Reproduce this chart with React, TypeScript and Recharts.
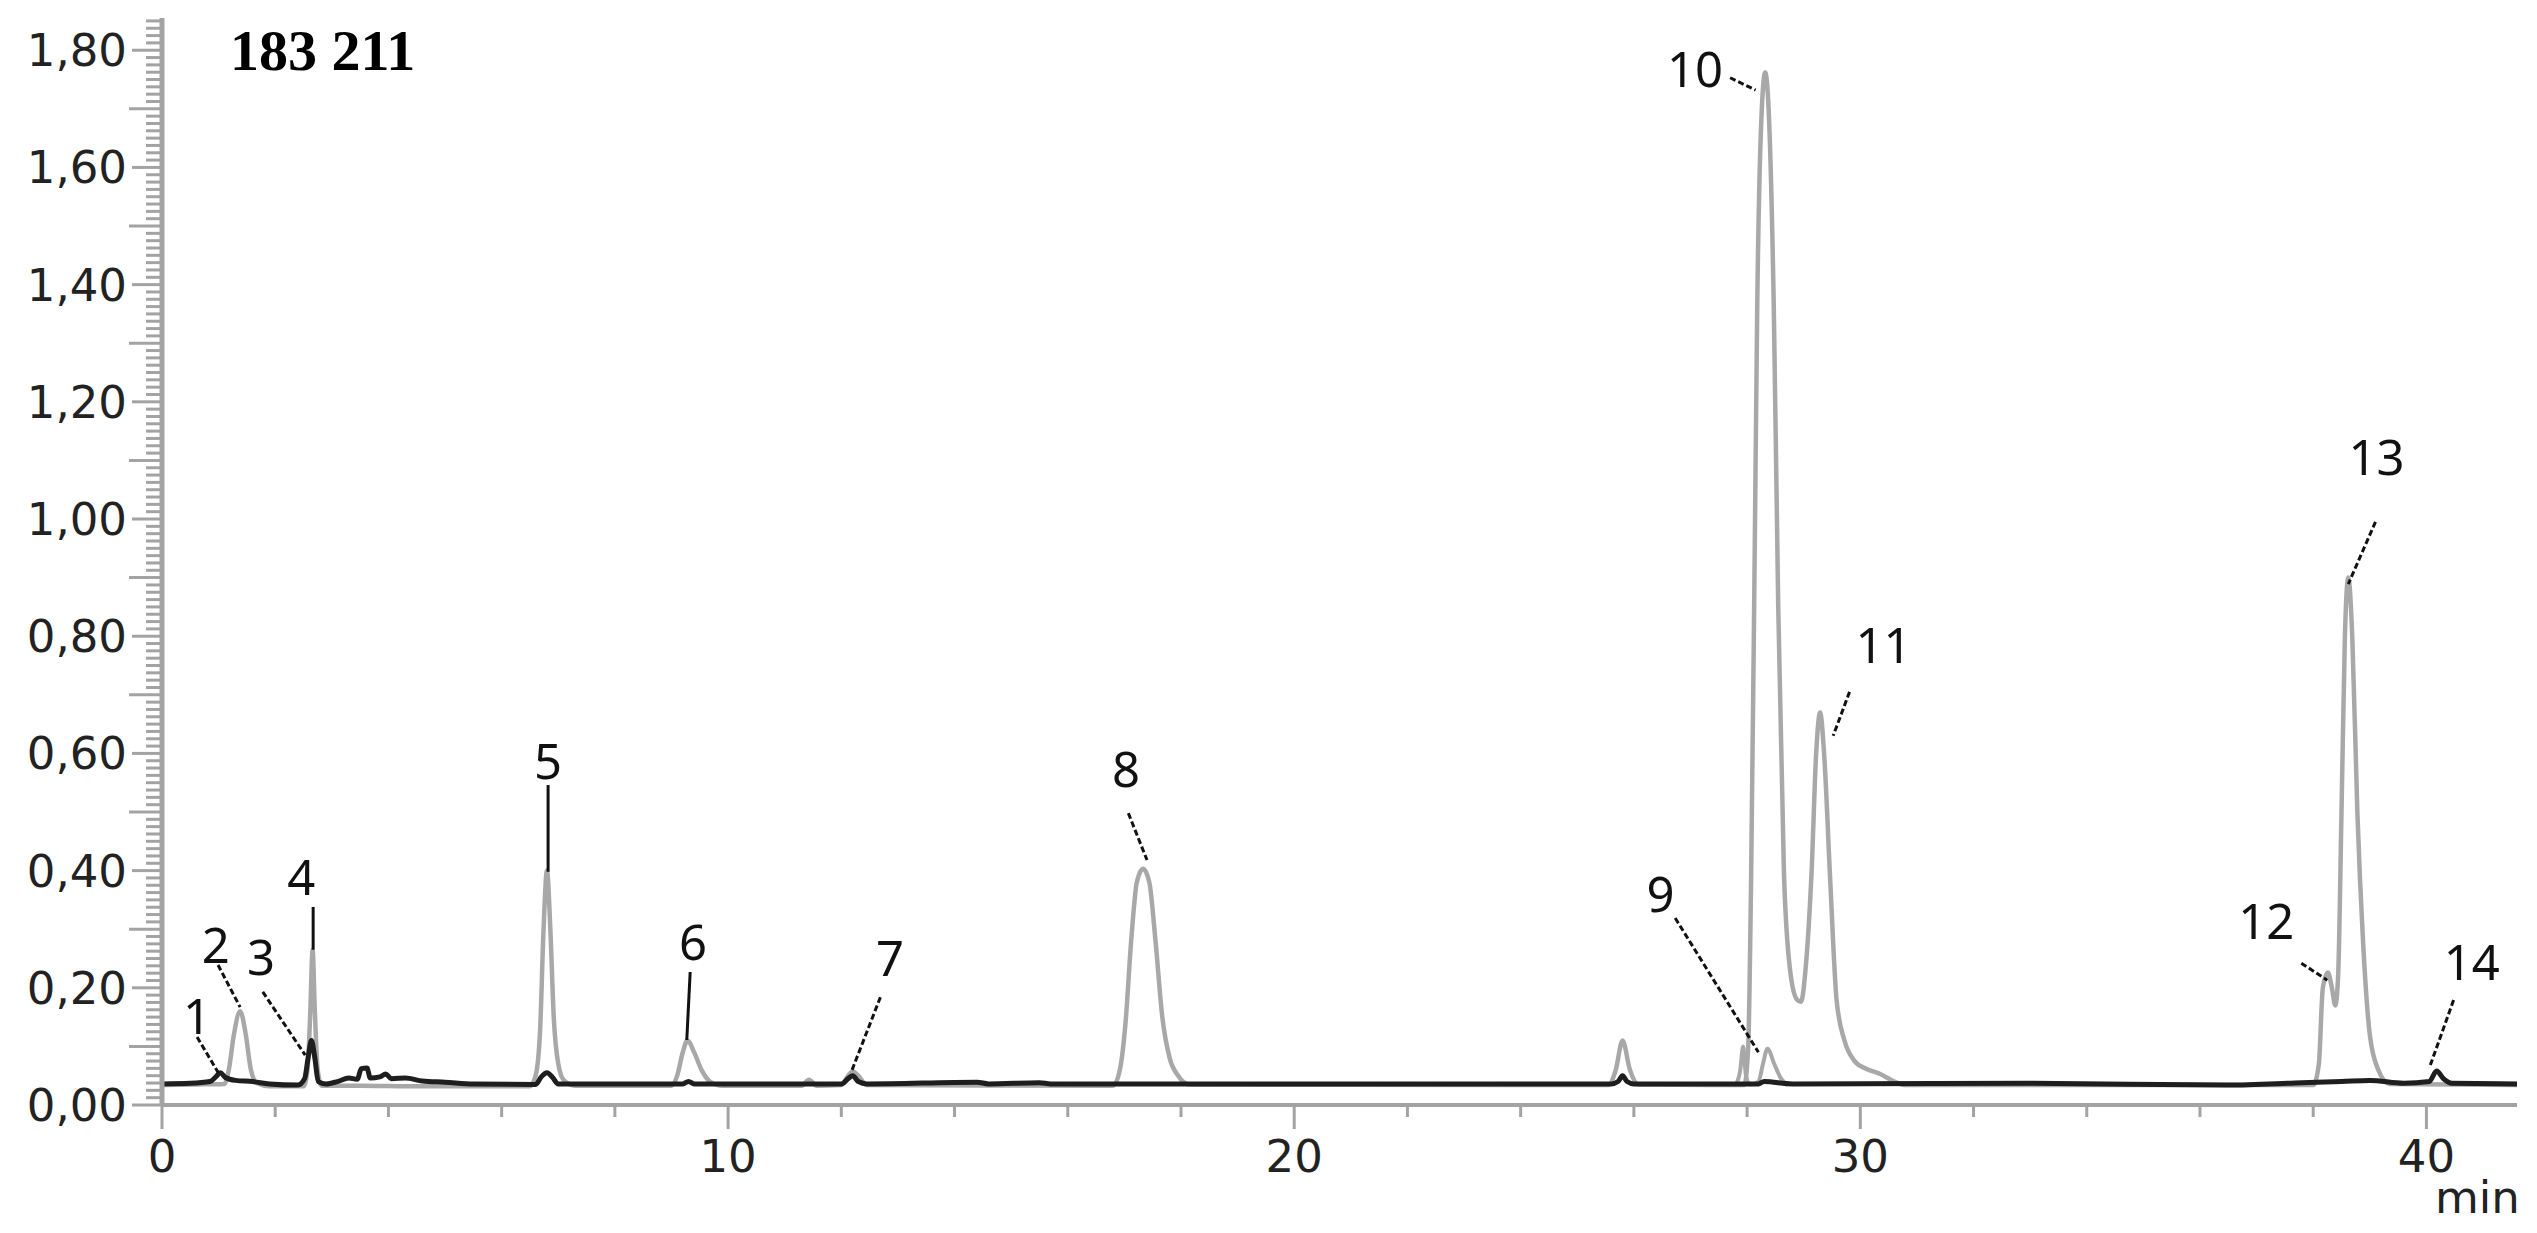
import React from 'react';
import { ComposedChart, Line, Scatter, XAxis, YAxis, ReferenceLine } from 'recharts';

// grey chromatogram, [min, AU]
const mainTrace = [
  [0, 0.034], [0.6, 0.035], [1.1, 0.036], [1.18, 0.06], [1.27, 0.12], [1.38, 0.16], [1.48, 0.12],
  [1.57, 0.06], [1.68, 0.037], [1.9, 0.032], [2.5, 0.032], [2.57, 0.06], [2.62, 0.16], [2.66, 0.265],
  [2.7, 0.16], [2.75, 0.06], [2.82, 0.033], [3.5, 0.033], [4.5, 0.032], [6.5, 0.032], [6.6, 0.05],
  [6.68, 0.13], [6.74, 0.3], [6.8, 0.4], [6.86, 0.3], [6.92, 0.15], [7.0, 0.07], [7.1, 0.042],
  [7.3, 0.033], [9.0, 0.033], [9.1, 0.05], [9.2, 0.09], [9.28, 0.11], [9.4, 0.09], [9.53, 0.06],
  [9.68, 0.04], [9.9, 0.033], [11.3, 0.033], [11.43, 0.043], [11.56, 0.033], [12.0, 0.034],
  [12.12, 0.05], [12.2, 0.057], [12.3, 0.05], [12.45, 0.034], [16.8, 0.033], [16.92, 0.06],
  [17.02, 0.14], [17.12, 0.28], [17.22, 0.38], [17.33, 0.403], [17.44, 0.38], [17.55, 0.28],
  [17.67, 0.15], [17.8, 0.08], [17.95, 0.05], [18.15, 0.035], [25.55, 0.034], [25.68, 0.06],
  [25.8, 0.11], [25.93, 0.06], [26.08, 0.035], [27.95, 0.034], [28.02, 0.1], [28.07, 0.38],
  [28.13, 0.9], [28.18, 1.37], [28.26, 1.7], [28.32, 1.762], [28.38, 1.7], [28.47, 1.37],
  [28.55, 0.85], [28.65, 0.4], [28.76, 0.23], [28.88, 0.18], [28.95, 0.176], [29.04, 0.24],
  [29.14, 0.4], [29.22, 0.6], [29.29, 0.67], [29.36, 0.6], [29.47, 0.38], [29.58, 0.18],
  [29.72, 0.11], [29.9, 0.075], [30.1, 0.062], [30.35, 0.053], [30.6, 0.04], [30.8, 0.034],
  [38.0, 0.034], [38.1, 0.07], [38.17, 0.2], [38.26, 0.226], [38.33, 0.2], [38.39, 0.17],
  [38.44, 0.22], [38.5, 0.5], [38.56, 0.8], [38.62, 0.9], [38.69, 0.8], [38.78, 0.5],
  [38.88, 0.28], [39.0, 0.12], [39.15, 0.06], [39.35, 0.036], [41.6, 0.034],
];

// second grey trace (small peaks under 10)
const secondTrace = [
  [27.8, 0.034], [27.88, 0.06], [27.93, 0.1], [27.98, 0.05], [28.05, 0.035], [28.2, 0.04],
  [28.28, 0.07], [28.36, 0.096], [28.48, 0.07], [28.6, 0.045], [28.72, 0.034],
];

// dark trace
const blackTrace = [
  [0, 0.036], [0.5, 0.037], [0.85, 0.04], [0.95, 0.048], [1.03, 0.055], [1.12, 0.047], [1.3, 0.042],
  [1.6, 0.04], [1.9, 0.036], [2.4, 0.034], [2.52, 0.045], [2.58, 0.08], [2.64, 0.11], [2.7, 0.08],
  [2.76, 0.04], [2.9, 0.036], [3.1, 0.04], [3.3, 0.046], [3.45, 0.044], [3.52, 0.062], [3.62, 0.063],
  [3.68, 0.046], [3.85, 0.048], [3.95, 0.053], [4.05, 0.045], [4.3, 0.046], [4.6, 0.041], [5.0, 0.039],
  [5.5, 0.036], [6.6, 0.035], [6.7, 0.048], [6.8, 0.055], [6.9, 0.047], [7.0, 0.036], [9.2, 0.036],
  [9.3, 0.04], [9.4, 0.036], [12.0, 0.036], [12.12, 0.045], [12.2, 0.05], [12.3, 0.04], [12.45, 0.036],
  [14.4, 0.039], [14.6, 0.036], [15.5, 0.038], [15.7, 0.036], [25.6, 0.036], [25.72, 0.04],
  [25.8, 0.05], [25.88, 0.04], [26.0, 0.036], [28.2, 0.036], [28.3, 0.04], [28.8, 0.036], [33, 0.037],
  [36.5, 0.034], [37.8, 0.038], [38.5, 0.04], [39.0, 0.042], [39.6, 0.037], [40.05, 0.04],
  [40.18, 0.058], [40.3, 0.045], [40.45, 0.037], [41.6, 0.036],
];

const xTickLabels = ['0', '10', '20', '30', '40'];
const yTickLabels = ['0,00', '0,20', '0,40', '0,60', '0,80', '1,00', '1,20', '1,40', '1,60', '1,80'];

const peakNames = ['1', '2', '3', '4', '5', '6', '7', '8', '9', '10', '11', '12', '13', '14'];
// where each number sits (data units)
const peakLabelAt = [
  [0.62, 0.154], [0.95, 0.275], [1.75, 0.254], [2.46, 0.391], [6.82, 0.589], [9.38, 0.28],
  [12.86, 0.253], [17.03, 0.575], [26.47, 0.362], [27.08, 1.77], [30.41, 0.787], [37.17, 0.316],
  [39.12, 1.108], [40.8, 0.246],
];
// leader line from label to peak: [t1, v1, t2, v2]
const peakLeaders = [
  [0.62, 0.116, 1.02, 0.051], [0.99, 0.239, 1.38, 0.167], [1.78, 0.193, 2.53, 0.085],
  [2.67, 0.338, 2.67, 0.265], [6.82, 0.546, 6.82, 0.398], [9.33, 0.227, 9.27, 0.111],
  [12.69, 0.184, 12.19, 0.06], [17.07, 0.498, 17.4, 0.418], [26.73, 0.319, 28.2, 0.09],
  [27.7, 1.753, 28.15, 1.732], [29.81, 0.705, 29.52, 0.63], [37.79, 0.242, 38.25, 0.213],
  [39.1, 0.995, 38.62, 0.889], [40.48, 0.179, 40.05, 0.063],
];
const solidLeaders = ['4', '5', '6'];

const toPoints = (arr: number[][]) => arr.map(([t, v]) => ({ t, v }));

const Y_STEP = 0.0125;
const yTicks = Array.from({ length: 149 }, (_, i) => Math.round(i * Y_STEP * 10000) / 10000);
const xTicks = Array.from({ length: 21 }, (_, i) => i * 2);

const axisGrey = '#a3a3a3';
const tickFont = '"DejaVu Sans", Verdana, sans-serif';

const YTick = (props: any) => {
  const { x, y, payload } = props;
  const idx = Math.round(payload.value / Y_STEP);
  const major = idx % 16 === 0;
  const mid = idx % 8 === 0;
  const len = major ? 30 : mid ? 33 : 16;
  return (
    <g>
      <line x1={x - len} x2={x} y1={y} y2={y} stroke={axisGrey} strokeWidth={3} />
      {major && (
        <text x={x - 35} y={y + 16} textAnchor="end" fontSize={45} fontFamily={tickFont} fill="#222">
          {yTickLabels[idx / 16]}
        </text>
      )}
    </g>
  );
};

const XTick = (props: any) => {
  const { x, y, payload } = props;
  const major = payload.value % 10 === 0;
  return (
    <g>
      <line x1={x} x2={x} y1={y} y2={y + (major ? 24 : 12)} stroke={axisGrey} strokeWidth={3} />
      {major && (
        <text x={x} y={y + 67} textAnchor="middle" fontSize={45} fontFamily={tickFont} fill="#222">
          {xTickLabels[payload.value / 10]}
        </text>
      )}
    </g>
  );
};

const PeakLabel = (props: any) => {
  const { cx, cy, payload } = props;
  return (
    <text x={cx} y={cy} textAnchor="middle" dominantBaseline="central" fontSize={49}
      fontFamily='"Noto Sans", sans-serif' fill="#111">
      {payload.name}
    </text>
  );
};

const labelPoints = peakNames.map((name, i) => ({ name, t: peakLabelAt[i][0], v: peakLabelAt[i][1] }));

export default function App() {
  return (
    <div style={{ position: 'absolute', left: 0, top: 0, width: 2537, height: 1233, background: '#fff' }}>
      <ComposedChart width={2537} height={1233} margin={{ top: 18, right: 20, bottom: 28, left: 62 }}>
        <XAxis
          dataKey="t"
          type="number"
          domain={[0, 41.6]}
          ticks={xTicks}
          interval={0}
          tickSize={0}
          tickMargin={0}
          tickLine={false}
          tick={<XTick />}
          height={100}
          axisLine={{ stroke: axisGrey, strokeWidth: 4 }}
          allowDataOverflow
        />
        <YAxis
          type="number"
          domain={[0, 1.855]}
          ticks={yTicks}
          interval={0}
          tickSize={0}
          tickMargin={0}
          tickLine={false}
          tick={<YTick />}
          width={100}
          axisLine={{ stroke: axisGrey, strokeWidth: 5 }}
          allowDataOverflow
        />
        <Line data={toPoints(mainTrace)} dataKey="v" type="monotone" stroke="#a8a8a8" strokeWidth={4.5}
          dot={false} activeDot={false} isAnimationActive={false} />
        <Line data={toPoints(secondTrace)} dataKey="v" type="monotone" stroke="#a8a8a8" strokeWidth={4}
          dot={false} activeDot={false} isAnimationActive={false} />
        <Line data={toPoints(blackTrace)} dataKey="v" type="monotone" stroke="#1e1e1e" strokeWidth={5}
          dot={false} activeDot={false} isAnimationActive={false} />
        {peakLeaders.map((l, i) => (
          <ReferenceLine
            key={peakNames[i]}
            segment={[{ x: l[0], y: l[1] }, { x: l[2], y: l[3] }]}
            stroke="#111"
            strokeWidth={3}
            strokeDasharray={solidLeaders.includes(peakNames[i]) ? undefined : '6 3'}
          />
        ))}
        <Scatter data={labelPoints} dataKey="v" shape={<PeakLabel />} isAnimationActive={false} />
      </ComposedChart>
      <svg width={2537} height={1233} style={{ position: 'absolute', left: 0, top: 0, pointerEvents: 'none' }}>
        <text x={230} y={70} fontSize={58} fontWeight="bold"
          fontFamily='"Liberation Serif", "Times New Roman", serif' fill="#000">183 211</text>
        <text x={2435} y={1213} fontSize={45} fontFamily={tickFont} fill="#222">min</text>
      </svg>
    </div>
  );
}
